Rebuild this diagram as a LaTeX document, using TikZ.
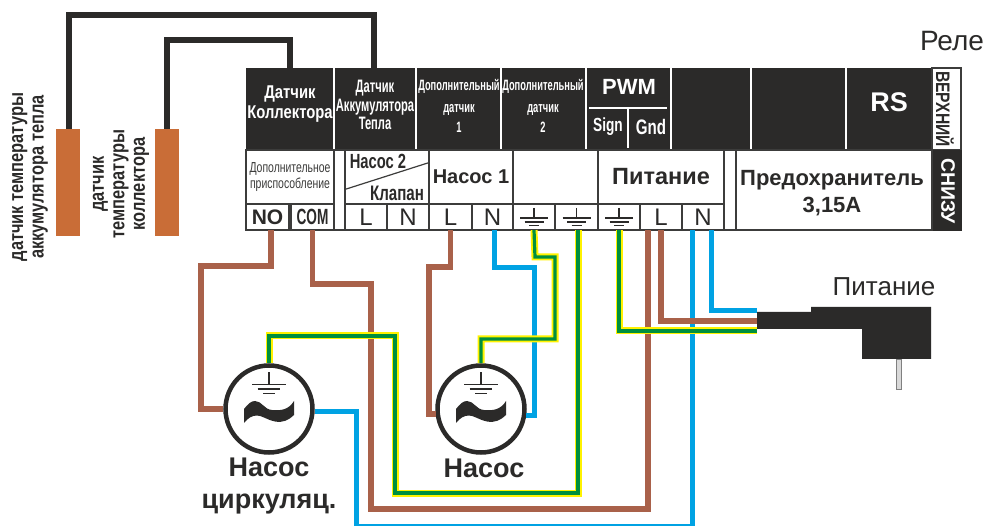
\documentclass[tikz,border=0pt]{standalone}
\usepackage{fontspec}
\setmainfont{Liberation Sans}
\newfontfamily\narrowfont[FakeStretch=0.72]{Liberation Sans}
\newfontfamily\tightfont[FakeStretch=0.62]{Liberation Sans}
\newfontfamily\midfont[FakeStretch=0.8]{Liberation Sans}
\definecolor{darkbox}{HTML}{2B2A29}
\definecolor{cellline}{HTML}{3C3C3B}
\definecolor{wirebrown}{HTML}{A9614A}
\definecolor{wireblue}{HTML}{00A2E3}
\definecolor{wiregreen}{HTML}{008F3E}
\definecolor{wireyellow}{HTML}{FFF200}
\definecolor{sensorcol}{HTML}{C96D37}
\tikzset{
	cell/.style={draw=cellline,line width=1.2pt,fill=white,inner sep=0pt,minimum height=25pt,text=darkbox},
	head/.style={text=white,inner sep=0pt,align=center},
	label/.style={text=darkbox,inner sep=0pt,align=center},
	brownwire/.style={draw=wirebrown,line width=5.5pt},
	bluewire/.style={draw=wireblue,line width=5pt},
	greenwire/.style={draw=wireyellow,line width=7pt,postaction={draw=wiregreen,line width=3.2pt}},
	blackwire/.style={draw=darkbox,line width=6pt},
	pump/.style={circle,draw=darkbox,line width=4.5pt,fill=white,minimum size=87pt,inner sep=0pt},
	earth/.pic={
		\draw [darkbox,line width=1.4pt] (0,-10) -- (0,0);
		\draw [darkbox,line width=1.7pt] (-14,0) -- (14,0);
		\draw [darkbox,line width=1.7pt] (-9.5,4) -- (9.5,4);
		\draw [darkbox,line width=1.7pt] (-5,7.5) -- (5,7.5);
	},
	wave/.pic={
		\fill [darkbox] (-25,0) .. controls (-21,-5) and (-18,-8) .. (-14,-8)
			.. controls (-7,-8) and (-5,0.5) .. (3,1)
			.. controls (12,2) and (20,0.5) .. (25,-8) -- (25,6)
			.. controls (20,11) and (14,14) .. (6,12.5)
			.. controls (-3,10.5) and (-7,6.5) .. (-12,6.5)
			.. controls (-17,6.5) and (-21,9) .. (-25,14) -- cycle;
	}
}
\newcommand{\fs}[1]{\fontsize{#1}{#1}\selectfont}
\begin{document}
\begin{tikzpicture}[x=1pt,y=-1pt]
	\useasboundingbox (0,0) rectangle (988,526);
	% Шапка реле
	\fill [darkbox] (246,68) rectangle (932,150);
	\draw [white,line width=1.2pt] (334,68) -- (334,150);
	\draw [white,line width=1.2pt] (416,68) -- (416,150);
	\draw [white,line width=1.2pt] (501,68) -- (501,150);
	\draw [white,line width=1.2pt] (586,68) -- (586,150);
	\draw [white,line width=1.2pt] (671,68) -- (671,150);
	\draw [white,line width=1.2pt] (751,68) -- (751,150);
	\draw [white,line width=1.2pt] (846,68) -- (846,150);
	\draw [white,line width=1.2pt] (589,108) -- (667,108);
	\draw [white,line width=1.2pt] (628,108) -- (628,148);
	\node [head,font=\midfont\bfseries\fs{18.5}] (hColl) at (290,104) {Датчик\\[2pt]Коллектора};
	\node [head,font=\tightfont\bfseries\fs{18}] (hAkk) at (375,105) {Датчик\\[0.5pt]Аккумулятора\\[0.5pt]Тепла};
	\node [head,font=\tightfont\bfseries\fs{15}] (hDopA) at (459,106) {Дополнительный\\[7pt]датчик\\[5pt]1};
	\node [head,font=\tightfont\bfseries\fs{15}] (hDopB) at (543,106) {Дополнительный\\[7pt]датчик\\[5pt]2};
	\node [head,font=\bfseries\fs{22}] (hPwm) at (629,87) {PWM};
	\node [head,font=\narrowfont\bfseries\fs{19}] (hSign) at (608,127) {Sign};
	\node [head,font=\narrowfont\bfseries\fs{21}] (hGnd) at (651,127) {Gnd};
	\node [head,font=\bfseries\fs{27}] (hRs) at (889,102) {RS};
	% Верхний / снизу
	\draw [draw=cellline,line width=1.2pt,fill=white] (932,68) rectangle (961,150);
	\fill [darkbox] (932,150) rectangle (962,231);
	\node [label,rotate=-90,font=\midfont\bfseries\fs{19.5}] (hTop) at (945,109) {ВЕРХНИЙ};
	\node [head,rotate=-90,font=\bfseries\fs{19.5}] (hBottom) at (948,191) {СНИЗУ};
	% Средний ряд
	\draw [draw=cellline,line width=1.2pt,fill=white] (246,150) rectangle (932,230);
	\node [cell,minimum width=88pt,minimum height=54pt,font=\narrowfont\fs{14.5},text=cellline,align=center] (cExtra) at (290,177) {Дополнительное\\[2pt]приспособление};
	\node [cell,minimum width=84pt,minimum height=54pt] (cPumpB) at (387,177) {};
	\draw [draw=cellline,line width=1.2pt] (cPumpB.south west) ++(0,-15) -- ([yshift=-13pt]cPumpB.north east);
	\node [label,font=\narrowfont\bfseries\fs{20.5}] (tPumpB) at (378,161) {Насос 2};
	\node [label,font=\narrowfont\bfseries\fs{21}] (tValve) at (397,193) {Клапан};
	\node [cell,minimum width=84pt,minimum height=54pt,font=\bfseries\fs{20}] (cPumpA) at (471,177) {Насос 1};
	\node [cell,minimum width=85pt,minimum height=54pt] (cFree) at (555.5,177) {};
	\node [cell,minimum width=126pt,minimum height=54pt,font=\bfseries\fs{23.5}] (cPower) at (661,177) {Питание};
	\node [cell,minimum width=196pt,minimum height=80pt] (cFuse) at (834,190) {};
	\node [label,font=\bfseries\fs{22},align=center] (tFuse) at (832,193.5) {Предохранитель\\[5pt]3,15А};
	% Клеммы
	\node [cell,minimum width=43pt,font=\bfseries\fs{21}] (tNO) at (267.5,217) {NO};
	\node [cell,minimum width=43pt,font=\tightfont\bfseries\fs{22}] (tCOM) at (312.5,217) {COM};
	\node [cell,minimum width=42pt,font=\fs{24}] (tLa) at (366,217) {L};
	\node [cell,minimum width=42pt,font=\fs{24}] (tNa) at (408,217) {N};
	\node [cell,minimum width=43pt,font=\fs{24}] (tLb) at (450.5,217) {L};
	\node [cell,minimum width=41pt,font=\fs{24}] (tNb) at (492.5,217) {N};
	\node [cell,minimum width=42pt] (tGa) at (534,217) {};
	\node [cell,minimum width=43pt] (tGb) at (576.5,217) {};
	\node [cell,minimum width=42pt] (tGc) at (619,217) {};
	\node [cell,minimum width=42pt,font=\fs{24}] (tLc) at (661,217) {L};
	\node [cell,minimum width=42pt,font=\fs{24}] (tNc) at (703,217) {N};
	\pic at (534,218) {earth};
	\pic at (576.5,218) {earth};
	\pic at (619,218) {earth};
	% Подписи
	\node [label,font=\fs{28}] (tRelay) at (952,41) {Реле};
	\node [label,font=\fs{26}] (tMains) at (884,287) {Питание};
	% Датчики
	\fill [sensorcol] (55.5,129) rectangle (80,236);
	\fill [sensorcol] (155,129) rectangle (179,236);
	\coordinate (sensA) at (69,129);
	\coordinate (sensB) at (167,129);
	\coordinate (hAkkIn) at (374,68);
	\coordinate (hCollIn) at (290,68);
	\draw [blackwire] (sensA) |- (hAkkIn |- 0,15) -- (hAkkIn);
	\draw [blackwire] (sensB) |- (hCollIn |- 0,40) -- (hCollIn);
	\node [label,rotate=90,font=\midfont\bfseries\fs{20.5}] (tSensA) at (30,177) {датчик температуры\\[0pt]аккумулятора тепла};
	\node [label,rotate=90,font=\midfont\bfseries\fs{20.5}] (tSensB) at (121,184) {датчик\\[0pt]температуры\\[0pt]коллектора};
	% Насосы
	\node [pump] (pumpA) at (269,409) {};
	\node [pump] (pumpB) at (481,409) {};
	\pic [scale=1.2] at (269,384.5) {earth};
	\pic [scale=1.2] at (481,384.5) {earth};
	\pic at (269,409) {wave};
	\pic at (481,409) {wave};
	\node [label,font=\bfseries\fs{27},align=center] (tPumpCirc) at (269,486) {Насос\\[5pt]циркуляц.};
	\node [label,font=\bfseries\fs{27}] (tPump) at (484,468) {Насос};
	% Вилка
	\fill [darkbox] (757,312) -- (811,312) -- (811,307) -- (931,307) -- (931,359) -- (862,359) -- (862,329) -- (757,329) -- cycle;
	\draw [draw=gray,fill=black!15,line width=0.8pt] (896.5,359) rectangle (901.5,389.5);
	\coordinate (plugN) at (757,311);
	\coordinate (plugL) at (757,321);
	\coordinate (plugG) at (757,331);
	% Провода
	\draw [brownwire] ([xshift=3.5pt]tNO.south) |- (201,266) |- (pumpA.west);
	\draw [brownwire] (tCOM.south) |- (371,284) |- (648,509) -- ([xshift=-13pt]tLc.south);
	\draw [brownwire] (tLb.south) |- (429,267) |- (pumpB.186);
	\draw [bluewire] ([xshift=1.5pt]tNb.south) |- (534,268) |- (pumpB.-8);
	\draw [bluewire] (pumpA.-3) -| (356,526) -| ([xshift=-11pt]tNc.south);
	\draw [bluewire] ([xshift=8pt]tNc.south) |- (plugN);
	\draw [brownwire] (tLc.south) |- (plugL);
	\draw [greenwire] (pumpA.north) |- (395,336) |- (578,493) -- (tGb.south -| 578,0);
	\draw [greenwire] (pumpB.north) |- (555,339) |- (535,257) -- (tGa.south);
	\draw [greenwire] (tGc.south) |- (plugG);
\end{tikzpicture}
\end{document}
